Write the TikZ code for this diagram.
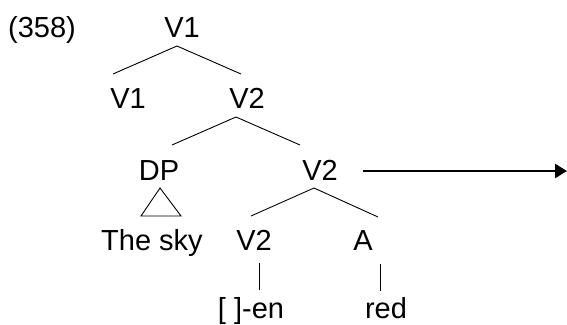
\documentclass[tikz,border=0pt]{standalone}
\usepackage{fontspec}
\setmainfont{Liberation Sans}
\usetikzlibrary{arrows.meta}

\begin{document}
\begin{tikzpicture}[x=1pt,y=-1pt,
    cat/.style={inner sep=0pt, anchor=base, font=\fontsize{29}{34}\selectfont},
    branch/.style={line width=0.9pt},
    move/.style={line width=2.5pt, -{Triangle[length=12pt,width=14pt]}}]
\useasboundingbox (0,0) rectangle (567,324);
% labels
\node[cat] (num)   at (42,37)  {(358)};
\node[cat] (v1top) at (182,37) {V1};
\node[cat] (v1)    at (128,108) {V1};
\node[cat] (v2a)   at (247,108) {V2};
\node[cat] (dp)    at (159,180) {DP};
\node[cat] (v2b)   at (320,180) {V2};
\node[cat] (sky)   at (152,250) {The sky};
\node[cat] (v2c)   at (254,250) {V2};
\node[cat] (adj)   at (363,250) {A};
\node[cat] (en)    at (251,318) {[ ]-en};
\node[cat] (red)   at (386,318) {red};
% branch points
\coordinate (v1top-b) at (177,46);
\coordinate (v1-t)    at (113,74);
\coordinate (v2a-t)   at (241,74);
\coordinate (v2a-b)   at (236,117);
\coordinate (dp-t)    at (172,145);
\coordinate (v2b-t)   at (300,145);
\coordinate (v2b-b)   at (314,188);
\coordinate (v2c-t)   at (251,216);
\coordinate (adj-t)   at (378,217);
\coordinate (tri-a)   at (160,188);
\coordinate (tri-l)   at (141,216);
\coordinate (tri-r)   at (181,216);
\coordinate (v2c-b)   at (259,263);
\coordinate (en-t)    at (259,290);
\coordinate (adj-b)   at (380,264);
\coordinate (red-t)   at (380,291);
\coordinate (out-s)   at (363,171);
\coordinate (out-e)   at (567,171);
% tree
\draw[branch] (v1-t) -- (v1top-b) -- (v2a-t);
\draw[branch] (dp-t) -- (v2a-b) -- (v2b-t);
\draw[branch] (v2c-t) -- (v2b-b) -- (adj-t);
\draw[branch] (tri-a) -- (tri-l) -- (tri-r) -- cycle;
\draw[branch] (v2c-b) -- (en-t);
\draw[branch] (adj-b) -- (red-t);
\draw[move] (out-s) -- (out-e);
\end{tikzpicture}
\end{document}
